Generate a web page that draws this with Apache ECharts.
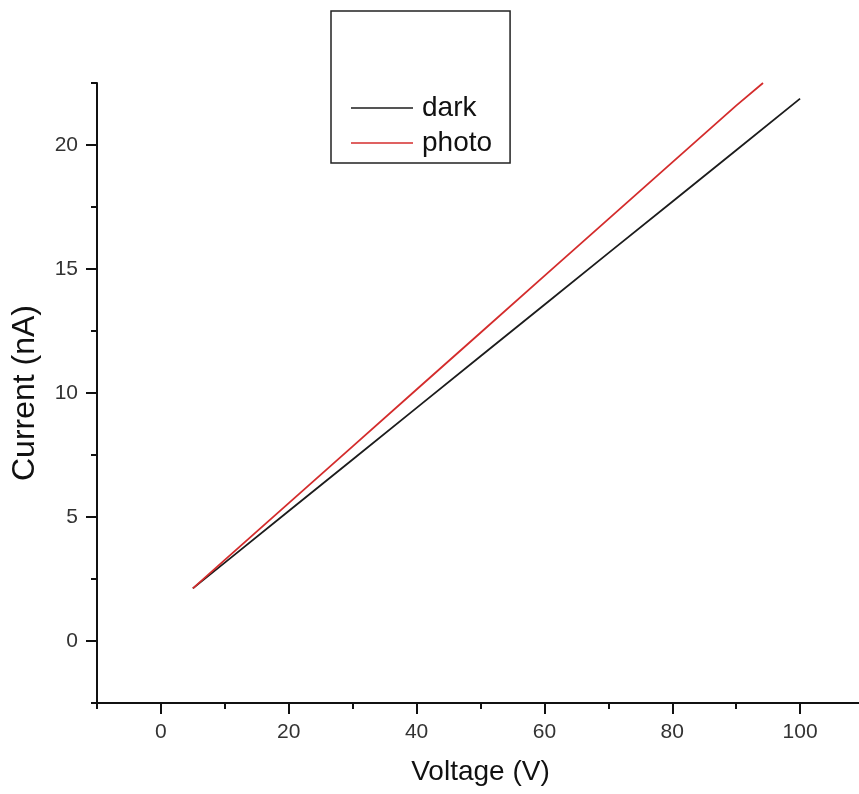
<!DOCTYPE html>
<html>
<head>
<meta charset="utf-8">
<script src="https://cdn.jsdelivr.net/npm/echarts@6/dist/echarts.min.js"></script>
<style>
  html, body { margin: 0; padding: 0; background: #fff; }
  #chart { width: 859px; height: 794px; }
</style>
</head>
<body>
<div id="chart"></div>
<script>
// I-V curves
var darkV = [5, 10, 20, 30, 40, 50, 60, 70, 80, 90, 100];
var darkI = [2.12, 3.16, 5.24, 7.32, 9.40, 11.48, 13.56, 15.64, 17.71, 19.79, 21.87];
var photoV = [5, 10, 20, 30, 40, 50, 60, 70, 80, 90, 94.2];
var photoI = [2.12, 3.27, 5.56, 7.85, 10.14, 12.43, 14.72, 17.01, 19.30, 21.59, 22.5];

var xMajorTicks = [0, 20, 40, 60, 80, 100];
var xMinorTicks = [-10, 10, 30, 50, 70, 90, 110];
var yMajorTicks = [0, 5, 10, 15, 20];
var yMinorTicks = [-2.5, 2.5, 7.5, 12.5, 17.5, 22.5];

var font = 'Liberation Sans, Arial, sans-serif';

function pairs(xs, ys) {
  var out = [];
  for (var i = 0; i < xs.length; i++) out.push([xs[i], ys[i]]);
  return out;
}

var axisLine = { show: true, onZero: false, lineStyle: { color: '#111', width: 2 } };

var chart = echarts.init(document.getElementById('chart'));
chart.setOption({
  animation: false,
  backgroundColor: '#fff',
  textStyle: { fontFamily: font },
  grid: { left: 97, top: 83, right: -5, bottom: 91, outerBoundsMode: 'none', containLabel: false },
  legend: {
    orient: 'vertical',
    left: 331,
    top: 11,
    padding: [83, 18, 6, 20],
    icon: 'rect',
    itemWidth: 62,
    itemHeight: 1.7,
    itemGap: 7,
    borderColor: '#222',
    borderWidth: 1.5,
    textStyle: { fontSize: 28, lineHeight: 24, color: '#111', fontFamily: font, padding: [0, 0, 0, 4] },
    data: ['dark', 'photo']
  },
  xAxis: [{
    type: 'value',
    min: -10, max: 110, interval: 10,
    position: 'bottom',
    name: 'Voltage (V)',
    nameLocation: 'middle',
    nameGap: 55,
    nameTextStyle: { fontSize: 28, color: '#111', fontFamily: font },
    axisLine: axisLine,
    axisTick: { show: true, inside: false, length: 11, customValues: xMajorTicks, lineStyle: { color: '#111', width: 2 } },
    axisLabel: { fontSize: 21, color: '#333', margin: 19, customValues: xMajorTicks },
    splitLine: { show: false }
  }, {
    type: 'value',
    min: -10, max: 110, interval: 10,
    position: 'bottom',
    axisLine: { show: false, onZero: false },
    axisTick: { show: true, inside: false, length: 6, customValues: xMinorTicks, lineStyle: { color: '#111', width: 2 } },
    axisLabel: { show: false },
    splitLine: { show: false }
  }],
  yAxis: [{
    type: 'value',
    min: -2.5, max: 22.5, interval: 2.5,
    position: 'left',
    name: 'Current (nA)',
    nameLocation: 'middle',
    nameGap: 56,
    nameTextStyle: { fontSize: 32, color: '#111', fontFamily: font },
    axisLine: axisLine,
    axisTick: { show: true, inside: false, length: 11, customValues: yMajorTicks, lineStyle: { color: '#111', width: 2 } },
    axisLabel: { fontSize: 21, color: '#333', margin: 19, customValues: yMajorTicks },
    splitLine: { show: false }
  }, {
    type: 'value',
    min: -2.5, max: 22.5, interval: 2.5,
    position: 'left',
    axisLine: { show: false, onZero: false },
    axisTick: { show: true, inside: false, length: 6, customValues: yMinorTicks, lineStyle: { color: '#111', width: 2 } },
    axisLabel: { show: false },
    splitLine: { show: false }
  }],
  series: [{
    name: 'dark',
    type: 'line',
    xAxisIndex: 0, yAxisIndex: 0,
    symbol: 'none',
    lineStyle: { color: '#1c1c1c', width: 1.8 },
    itemStyle: { color: '#1c1c1c' },
    data: pairs(darkV, darkI)
  }, {
    name: 'photo',
    type: 'line',
    xAxisIndex: 0, yAxisIndex: 0,
    symbol: 'none',
    lineStyle: { color: '#d42c2c', width: 1.8 },
    itemStyle: { color: '#d42c2c' },
    data: pairs(photoV, photoI)
  }]
});
</script>
</body>
</html>
